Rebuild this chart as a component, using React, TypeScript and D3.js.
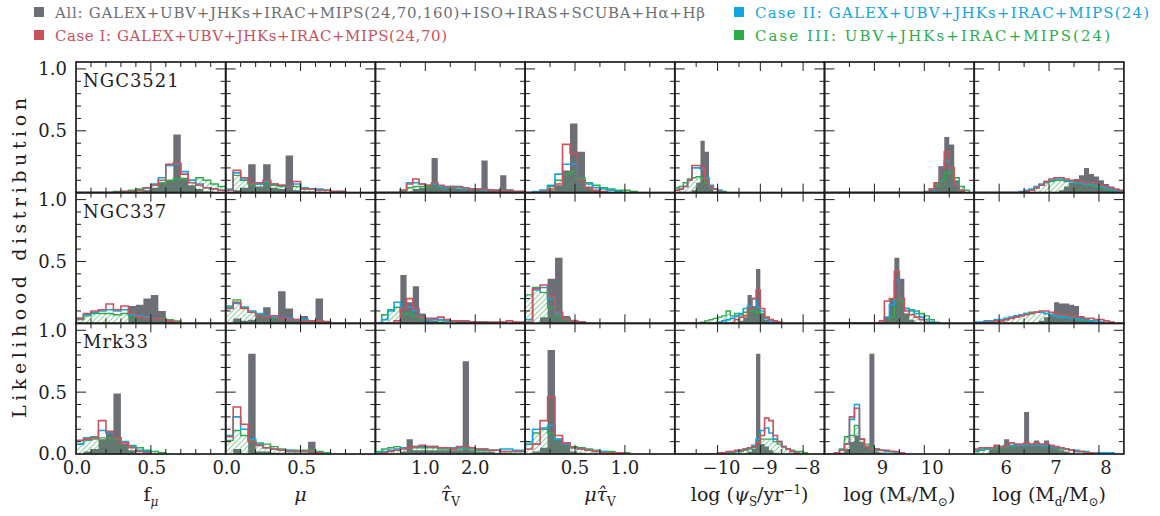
import React from "react";
import * as d3 from "d3";

// ---------- data (likelihood per bin) ----------
const galaxies = ["NGC3521", "NGC337", "Mrk33"];

// bin grid for each parameter column
const binStart = [0, 0, 0, 0, -11, 8, 5.5];
const binWidth = [0.05, 0.05, 0.125, 0.075, 0.1, 0.1, 0.1];
const xDomains: [number, number][] = [[0, 1], [0, 1], [0, 3], [0, 1.5], [-11, -7.5], [8, 11], [5.5, 8.5]];
const minorStep = [0.1, 0.1, 0.5, 0.25, 0.5, 0.5, 0.5];
const majorStep = [0.5, 0.5, 1, 0.5, 1, 1, 1];
const xTickValues = [[0, 0.5], [0, 0.5], [1, 2], [0.5, 1], [-10, -9, -8], [9, 10], [6, 7, 8]];
const xTickText = [["0.0", "0.5"], ["0.0", "0.5"], ["1.0", "2.0"], ["0.5", "1.0"], ["−10", "−9", "−8"], ["9", "10"], ["6", "7", "8"]];
const xTickShift = [1, 1, 0, 0, 4, 8, 7];
const yTickValues = [0, 0.5, 1];
const yTickText = ["0.0", "0.5", "1.0"];

// NGC3521
const ngc3521All = [
  [0, 0, 0, 0, 0, 0, 0, 0, 0.01, 0.02, 0.04, 0.08, 0.1, 0.47, 0.12, 0.06, 0.03, 0.01],
  [0, 0.02, 0.04, 0.23, 0.05, 0.23, 0.04, 0.03, 0.3, 0.02, 0.01, 0.01],
  [0, 0, 0, 0, 0, 0.01, 0.03, 0.04, 0.05, 0.28, 0.05, 0.04, 0.04, 0.03, 0.03, 0.03, 0.03, 0.26, 0.03, 0.02, 0.14, 0.02, 0.01],
  [0, 0, 0, 0.02, 0.06, 0.18, 0.56, 0.33, 0.05, 0.02, 0.01],
  [0, 0, 0, 0, 0.02, 0.08, 0.42, 0.33, 0.05, 0.01],
  [0, 0, 0, 0, 0, 0, 0, 0, 0, 0, 0, 0, 0, 0, 0, 0, 0, 0, 0, 0, 0.01, 0.03, 0.08, 0.2, 0.45, 0.39, 0.1, 0.02],
  [0, 0, 0, 0, 0, 0, 0, 0, 0, 0, 0, 0, 0, 0, 0, 0, 0, 0.02, 0.05, 0.08, 0.11, 0.14, 0.2, 0.15, 0.13, 0.1, 0.07, 0.05, 0.03, 0.02],
];
const ngc3521Case1 = [
  [0, 0, 0, 0, 0, 0, 0.01, 0.01, 0.02, 0.04, 0.06, 0.1, 0.23, 0.24, 0.15, 0.08, 0.06, 0.04, 0.03, 0.02],
  [0.02, 0.18, 0.12, 0.08, 0.08, 0.1, 0.07, 0.06, 0.05, 0.09, 0.03, 0.03, 0.02, 0.02, 0.01, 0.01],
  [0, 0, 0, 0, 0.02, 0.07, 0.11, 0.07, 0.06, 0.08, 0.06, 0.05, 0.05, 0.05, 0.04, 0.03, 0.03, 0.03, 0.02, 0.02, 0.02, 0.02, 0.01, 0.01],
  [0, 0, 0.01, 0.03, 0.07, 0.39, 0.32, 0.1, 0.04, 0.02, 0.01],
  [0.02, 0.03, 0.05, 0.1, 0.22, 0.22, 0.2, 0.1, 0.05, 0.03, 0.01],
  [0, 0, 0, 0, 0, 0, 0, 0, 0, 0, 0, 0, 0, 0, 0, 0, 0, 0, 0, 0, 0, 0.03, 0.08, 0.2, 0.33, 0.2, 0.06, 0.02],
  [0, 0, 0, 0, 0, 0, 0, 0, 0, 0, 0.01, 0.02, 0.04, 0.06, 0.09, 0.11, 0.12, 0.12, 0.11, 0.1, 0.09, 0.09, 0.08, 0.08, 0.07, 0.06, 0.05, 0.04, 0.03, 0.02],
];
const ngc3521Case2 = [
  [0, 0, 0, 0, 0, 0, 0.01, 0.01, 0.02, 0.04, 0.07, 0.12, 0.22, 0.23, 0.17, 0.1, 0.07, 0.04, 0.03, 0.02],
  [0.03, 0.16, 0.11, 0.08, 0.07, 0.09, 0.07, 0.06, 0.05, 0.07, 0.04, 0.03, 0.03, 0.02, 0.01, 0.01],
  [0, 0, 0, 0, 0.02, 0.08, 0.08, 0.07, 0.06, 0.07, 0.05, 0.04, 0.05, 0.04, 0.03, 0.03, 0.03, 0.02, 0.02, 0.02, 0.02, 0.02, 0.01, 0.01],
  [0, 0.01, 0.02, 0.06, 0.15, 0.23, 0.23, 0.1, 0.07, 0.04, 0.03, 0.02, 0.01],
  [0.02, 0.03, 0.05, 0.1, 0.2, 0.2, 0.19, 0.12, 0.06, 0.03, 0.02],
  [0, 0, 0, 0, 0, 0, 0, 0, 0, 0, 0, 0, 0, 0, 0, 0, 0, 0, 0, 0, 0, 0, 0.08, 0.21, 0.26, 0.2, 0.07, 0.02],
  [0, 0, 0, 0, 0, 0, 0, 0, 0, 0.01, 0.02, 0.03, 0.05, 0.07, 0.09, 0.1, 0.11, 0.11, 0.1, 0.09, 0.08, 0.08, 0.07, 0.07, 0.06, 0.05, 0.04, 0.03, 0.02, 0.01],
];
const ngc3521Case3 = [
  [0, 0, 0, 0, 0, 0.01, 0.01, 0.02, 0.03, 0.04, 0.06, 0.08, 0.1, 0.11, 0.11, 0.1, 0.12, 0.1, 0.07, 0.05],
  [0.02, 0.14, 0.1, 0.07, 0.07, 0.08, 0.06, 0.05, 0.05, 0.05, 0.03, 0.03, 0.02, 0.02, 0.01, 0.01],
  [0, 0, 0, 0, 0.01, 0.04, 0.05, 0.05, 0.05, 0.06, 0.05, 0.04, 0.04, 0.04, 0.03, 0.03, 0.03, 0.02, 0.02, 0.02, 0.02, 0.02, 0.01, 0.01],
  [0, 0, 0.02, 0.05, 0.1, 0.15, 0.17, 0.12, 0.08, 0.06, 0.04, 0.03, 0.02, 0.02, 0.01],
  [0.04, 0.05, 0.08, 0.11, 0.12, 0.13, 0.12, 0.08, 0.05, 0.03, 0.02, 0.01],
  [0, 0, 0, 0, 0, 0, 0, 0, 0, 0, 0, 0, 0, 0, 0, 0, 0, 0, 0, 0, 0.01, 0.03, 0.06, 0.1, 0.16, 0.18, 0.12, 0.05, 0.02],
  [0, 0, 0, 0, 0, 0, 0, 0, 0, 0, 0, 0.02, 0.04, 0.06, 0.08, 0.09, 0.1, 0.1, 0.09, 0.09, 0.08, 0.08, 0.07, 0.06, 0.05, 0.04, 0.03, 0.02, 0.01],
];

// NGC337
const ngc337All = [
  [0, 0, 0, 0, 0, 0, 0, 0.14, 0.15, 0.2, 0.23, 0.1, 0.02],
  [0, 0.04, 0.02, 0.03, 0.06, 0.13, 0.04, 0.26, 0.12, 0.03, 0.06, 0.02, 0.2, 0.02],
  [0, 0, 0, 0, 0.39, 0.17, 0.3, 0.08, 0.03, 0.02, 0.01],
  [0, 0, 0.05, 0.36, 0.53, 0.06, 0.03, 0.01],
  [0, 0, 0, 0, 0, 0, 0, 0, 0, 0, 0, 0, 0, 0, 0, 0.02, 0.05, 0.23, 0.14, 0.44, 0.08, 0.03, 0.01],
  [0, 0, 0, 0, 0, 0, 0, 0, 0, 0, 0, 0.01, 0.05, 0.2, 0.53, 0.36, 0.08, 0.03, 0.01],
  [0, 0, 0, 0, 0, 0, 0, 0, 0, 0, 0, 0, 0, 0.02, 0.05, 0.08, 0.17, 0.16, 0.16, 0.15, 0.14, 0.06, 0.04, 0.02, 0.01],
];
const ngc337Case1 = [
  [0.04, 0.08, 0.1, 0.11, 0.156, 0.11, 0.14, 0.08, 0.05, 0.04, 0.04, 0.03, 0.02, 0.01],
  [0.12, 0.17, 0.12, 0.09, 0.06, 0.05, 0.06, 0.04, 0.03, 0.03, 0.02, 0.02, 0.02, 0.01],
  [0, 0, 0, 0.02, 0.12, 0.2, 0.12, 0.05, 0.04, 0.04, 0.05, 0.03, 0.02, 0.02, 0.02, 0.01, 0.01, 0.01, 0.01, 0.01, 0.01, 0.02, 0.01, 0.01],
  [0.01, 0.28, 0.31, 0.22, 0.09, 0.04, 0.02, 0.01],
  [0, 0, 0, 0, 0, 0, 0, 0, 0, 0, 0, 0, 0, 0, 0.03, 0.05, 0.06, 0.12, 0.2, 0.27, 0.12, 0.05, 0.03, 0.02, 0.01],
  [0, 0, 0, 0, 0, 0, 0, 0, 0, 0, 0, 0.02, 0.18, 0.2, 0.42, 0.2, 0.1, 0.07, 0.05, 0.03, 0.01],
  [0, 0, 0.01, 0.01, 0.02, 0.02, 0.03, 0.04, 0.05, 0.06, 0.07, 0.08, 0.09, 0.1, 0.1, 0.09, 0.08, 0.07, 0.07, 0.06, 0.05, 0.05, 0.04, 0.04, 0.03, 0.03, 0.02, 0.01],
];
const ngc337Case2 = [
  [0.04, 0.07, 0.09, 0.1, 0.11, 0.1, 0.11, 0.07, 0.06, 0.05, 0.04, 0.03, 0.02],
  [0.13, 0.16, 0.13, 0.1, 0.08, 0.06, 0.05, 0.04, 0.04, 0.03, 0.03, 0.02, 0.02],
  [0, 0.03, 0.1, 0.17, 0.12, 0.13, 0.1, 0.05, 0.03, 0.03, 0.03, 0.02, 0.02, 0.02, 0.01, 0.01, 0.01, 0.01],
  [0.03, 0.27, 0.29, 0.2, 0.08, 0.04, 0.02, 0.01],
  [0, 0, 0, 0, 0, 0, 0, 0, 0, 0, 0.01, 0.02, 0.03, 0.04, 0.06, 0.08, 0.12, 0.14, 0.2, 0.13, 0.1, 0.04, 0.02, 0.01],
  [0, 0, 0, 0, 0, 0, 0, 0, 0, 0, 0, 0, 0.05, 0.15, 0.35, 0.2, 0.12, 0.1, 0.08, 0.05, 0.03, 0.01],
  [0.01, 0.01, 0.02, 0.02, 0.03, 0.03, 0.04, 0.05, 0.06, 0.07, 0.08, 0.08, 0.09, 0.09, 0.08, 0.07, 0.06, 0.05, 0.05, 0.04, 0.04, 0.03, 0.03, 0.02, 0.02, 0.01],
];
const ngc337Case3 = [
  [0.03, 0.06, 0.08, 0.08, 0.08, 0.07, 0.08, 0.06, 0.05, 0.05, 0.04, 0.04, 0.03, 0.02],
  [0.14, 0.19, 0.13, 0.09, 0.07, 0.05, 0.04, 0.04, 0.03, 0.03, 0.02, 0.02, 0.01],
  [0, 0.07, 0.11, 0.13, 0.08, 0.08, 0.06, 0.04, 0.03, 0.03, 0.02, 0.02, 0.02, 0.01, 0.01, 0.01, 0.01],
  [0.23, 0.29, 0.25, 0.13, 0.06, 0.03, 0.02, 0.01],
  [0, 0, 0, 0, 0, 0, 0.01, 0.02, 0.03, 0.04, 0.05, 0.06, 0.1, 0.06, 0.08, 0.07, 0.09, 0.1, 0.11, 0.09, 0.08, 0.05, 0.03, 0.01],
  [0, 0, 0, 0, 0, 0, 0, 0, 0, 0, 0, 0, 0, 0.05, 0.2, 0.18, 0.12, 0.11, 0.1, 0.08, 0.06, 0.03, 0.01],
  [0, 0, 0, 0, 0.01, 0.02, 0.03, 0.04, 0.06, 0.07, 0.08, 0.09, 0.09, 0.09, 0.08, 0.07, 0.06, 0.06, 0.05, 0.04, 0.03, 0.03, 0.02, 0.01],
];

// Mrk33
const mrk33All = [
  [0, 0.02, 0.04, 0.12, 0.19, 0.49, 0.08, 0.03],
  [0, 0.04, 0, 0.81, 0.02, 0.02, 0.01, 0.01, 0.01, 0.01, 0.01, 0.1, 0.01],
  [0, 0, 0, 0, 0.02, 0.12, 0.03, 0.03, 0.03, 0.03, 0.03, 0.03, 0.03, 0.03, 0.75, 0.03, 0.02, 0.02, 0.02, 0.01, 0.01, 0.01],
  [0, 0.02, 0.05, 0.84, 0.12, 0.08, 0.02, 0.01],
  [0, 0, 0, 0, 0, 0, 0, 0, 0, 0, 0, 0, 0, 0, 0, 0, 0, 0.02, 0.04, 0.81, 0.08, 0.06, 0.03, 0.01],
  [0, 0, 0, 0.01, 0.04, 0.1, 0.15, 0.1, 0.06, 0.81, 0.02, 0.01],
  [0, 0, 0, 0.04, 0.05, 0.06, 0.12, 0.07, 0.07, 0.08, 0.34, 0.08, 0.11, 0.08, 0.11, 0.07, 0.05, 0.03, 0.02, 0.01],
];
const mrk33Case1 = [
  [0.11, 0.12, 0.13, 0.27, 0.18, 0.13, 0.09, 0.05, 0.02, 0.01],
  [0.14, 0.38, 0.24, 0.1, 0.07, 0.05, 0.04, 0.03, 0.02, 0.02, 0.02, 0.02, 0.01],
  [0, 0.01, 0.02, 0.03, 0.04, 0.05, 0.06, 0.07, 0.06, 0.06, 0.05, 0.05, 0.04, 0.06, 0.06, 0.05, 0.04, 0.04, 0.03, 0.03, 0.02, 0.02, 0.02, 0.02],
  [0.04, 0.08, 0.27, 0.46, 0.15, 0.09, 0.05, 0.04, 0.03, 0.02, 0.01, 0.01, 0.01],
  [0, 0, 0, 0, 0, 0, 0, 0, 0, 0, 0.01, 0.01, 0.02, 0.02, 0.03, 0.03, 0.04, 0.05, 0.06, 0.09, 0.15, 0.29, 0.27, 0.15, 0.1, 0.06, 0.04, 0.02, 0.01],
  [0, 0, 0.01, 0.03, 0.08, 0.3, 0.37, 0.12, 0.06, 0.04, 0.04, 0.03, 0.03, 0.02, 0.02, 0.01],
  [0.04, 0.05, 0.05, 0.05, 0.07, 0.06, 0.07, 0.09, 0.08, 0.08, 0.09, 0.08, 0.09, 0.08, 0.08, 0.07, 0.06, 0.05, 0.04, 0.03, 0.02, 0.02, 0.01, 0.01],
];
const mrk33Case2 = [
  [0.08, 0.13, 0.14, 0.19, 0.17, 0.13, 0.1, 0.06, 0.03, 0.02],
  [0.15, 0.3, 0.2, 0.12, 0.08, 0.05, 0.04, 0.03, 0.03, 0.02, 0.02, 0.02, 0.01],
  [0.01, 0.02, 0.03, 0.04, 0.05, 0.05, 0.06, 0.06, 0.06, 0.06, 0.05, 0.05, 0.05, 0.05, 0.05, 0.05, 0.04, 0.04, 0.03, 0.03, 0.04, 0.04, 0.03, 0.03],
  [0.08, 0.2, 0.21, 0.23, 0.12, 0.08, 0.05, 0.04, 0.03, 0.02, 0.02, 0.01, 0.01],
  [0, 0, 0, 0, 0, 0, 0, 0, 0, 0, 0, 0, 0.01, 0.02, 0.02, 0.03, 0.04, 0.05, 0.07, 0.12, 0.19, 0.21, 0.17, 0.12, 0.1, 0.06, 0.04, 0.02],
  [0, 0, 0, 0.03, 0.08, 0.28, 0.4, 0.12, 0.06, 0.04, 0.03, 0.03, 0.02, 0.02, 0.01],
  [0.03, 0.04, 0.04, 0.05, 0.06, 0.06, 0.07, 0.07, 0.07, 0.07, 0.08, 0.07, 0.08, 0.07, 0.07, 0.06, 0.05, 0.05, 0.04, 0.03, 0.03, 0.02, 0.02, 0.01, 0.01, 0.01, 0.01, 0.01],
];
const mrk33Case3 = [
  [0.08, 0.11, 0.12, 0.13, 0.13, 0.12, 0.1, 0.07, 0.05, 0.03, 0.02, 0.01],
  [0.11, 0.19, 0.15, 0.11, 0.09, 0.08, 0.06, 0.04, 0.03, 0.03, 0.03, 0.03, 0.02, 0.01],
  [0.02, 0.04, 0.05, 0.06, 0.05, 0.05, 0.05, 0.05, 0.05, 0.05, 0.04, 0.04, 0.04, 0.04, 0.04, 0.04, 0.03, 0.03, 0.03, 0.03, 0.02, 0.02, 0.02, 0.02],
  [0.1, 0.17, 0.2, 0.17, 0.12, 0.09, 0.06, 0.05, 0.04, 0.03, 0.02, 0.02, 0.01, 0.01],
  [0, 0, 0, 0, 0, 0, 0, 0, 0, 0, 0, 0, 0, 0.01, 0.02, 0.02, 0.03, 0.04, 0.05, 0.1, 0.12, 0.12, 0.12, 0.1, 0.08, 0.06, 0.04, 0.03, 0.02, 0.02, 0.01],
  [0, 0, 0.01, 0.04, 0.14, 0.15, 0.23, 0.12, 0.08, 0.05, 0.04, 0.03, 0.02, 0.02, 0.01],
  [0.02, 0.03, 0.04, 0.04, 0.05, 0.05, 0.06, 0.06, 0.07, 0.07, 0.07, 0.07, 0.07, 0.07, 0.06, 0.06, 0.05, 0.04, 0.04, 0.03, 0.02, 0.02, 0.01, 0.01],
];

const rowsData = [
  [ngc3521All, ngc3521Case1, ngc3521Case2, ngc3521Case3],
  [ngc337All, ngc337Case1, ngc337Case2, ngc337Case3],
  [mrk33All, mrk33Case1, mrk33Case2, mrk33Case3],
];

// ---------- layout / style ----------
const W = 1160;
const H = 516;
const LEFT = 76;
const TOP = 62;
const PW = 149.7;
const PH = 130.67;
const GRAY = "#6c7076";
const RED = "#c9525c";
const BLUE = "#12a6e1";
const GREEN = "#2bad4b";
const INK = "#1e1e1e";
const FONT = "'DejaVu Serif', serif";

const xScale = (c: number) =>
  d3.scaleLinear().domain(xDomains[c]).range([LEFT + c * PW, LEFT + (c + 1) * PW]);
const yScale = (r: number) =>
  d3.scaleLinear().domain([0, 1.056]).range([TOP + (r + 1) * PH, TOP + r * PH]);

function histPath(vals: number[], c: number, xs: d3.ScaleLinear<number, number>, ys: d3.ScaleLinear<number, number>) {
  const s = binStart[c];
  const w = binWidth[c];
  const pts: [number, number][] = [[s, 0]];
  vals.forEach((v, i) => pts.push([s + i * w, v]));
  pts.push([s + vals.length * w, 0]);
  return d3.line<[number, number]>()
    .x(d => xs(d[0]))
    .y(d => ys(d[1]))
    .curve(d3.curveStepAfter)(pts) || "";
}

const near = (v: number, step: number) => Math.abs(v / step - Math.round(v / step)) < 1e-6;

function Panel({ r, c }: { r: number; c: number }) {
  const xs = xScale(c);
  const ys = yScale(r);
  const [all, c1, c2, c3] = rowsData[r].map(s => s[c]);
  const x0 = LEFT + c * PW;
  const x1 = x0 + PW;
  const y0 = TOP + r * PH;
  const y1 = y0 + PH;
  const clipId = `clip-${r}-${c}`;
  const yTicks = d3.range(1, 11).map(i => i / 10);
  const [d0, d1] = xDomains[c];
  const nx = Math.round((d1 - d0) / minorStep[c]);
  const xTicks = d3.range(1, nx).map(i => d0 + i * minorStep[c]);
  return (
    <g>
      <clipPath id={clipId}>
        <rect x={x0} y={y0} width={PW} height={PH} />
      </clipPath>
      <g clipPath={`url(#${clipId})`}>
        <path d={histPath(all, c, xs, ys)} fill={GRAY} stroke="none" />
        <path d={histPath(c3, c, xs, ys)} fill="url(#hatch)" stroke={GREEN} strokeWidth={1.4} />
        <path d={histPath(c2, c, xs, ys)} fill="none" stroke={BLUE} strokeWidth={1.6} />
        <path d={histPath(c1, c, xs, ys)} fill="none" stroke={RED} strokeWidth={1.6} />
      </g>
      {yTicks.map(v => {
        const len = near(v, 0.5) ? 10 : 5;
        return (
          <g key={`y${v}`} stroke={INK} strokeWidth={1}>
            <line x1={x0} x2={x0 + len} y1={ys(v)} y2={ys(v)} />
            <line x1={x1} x2={x1 - len} y1={ys(v)} y2={ys(v)} />
          </g>
        );
      })}
      {xTicks.map(v => {
        const len = near(v, majorStep[c]) ? 9 : 5;
        return (
          <g key={`x${v}`} stroke={INK} strokeWidth={1}>
            <line x1={xs(v)} x2={xs(v)} y1={y1} y2={y1 - len} />
            <line x1={xs(v)} x2={xs(v)} y1={y0} y2={y0 + len} />
          </g>
        );
      })}
      <rect x={x0} y={y0} width={PW} height={PH} fill="none" stroke={INK} strokeWidth={1.7} />
    </g>
  );
}

const legendItems = [
  { color: GRAY, label: "All: GALEX+UBV+JHKs+IRAC+MIPS(24,70,160)+ISO+IRAS+SCUBA+Hα+Hβ", x: 34, y: 7, len: 650 },
  { color: RED, label: "Case I: GALEX+UBV+JHKs+IRAC+MIPS(24,70)", x: 34, y: 30, len: 392 },
  { color: BLUE, label: "Case II: GALEX+UBV+JHKs+IRAC+MIPS(24)", x: 734, y: 7, len: 394 },
  { color: GREEN, label: "Case III: UBV+JHKs+IRAC+MIPS(24)", x: 734, y: 30, len: 355 },
];

function AxisTitle({ c }: { c: number }) {
  const cx = LEFT + (c + 0.5) * PW;
  const common = { x: cx, y: 501, textAnchor: "middle" as const, fontSize: 19, fontFamily: FONT, fill: INK };
  const sub = { fontSize: 12 };
  switch (c) {
    case 0:
      return <text {...common}>f<tspan {...sub} dy={5} fontStyle="italic">μ</tspan></text>;
    case 1:
      return <text {...common} fontStyle="italic">μ</text>;
    case 2:
      return <text {...common}><tspan fontStyle="italic">τ̂</tspan><tspan {...sub} dy={5}>V</tspan></text>;
    case 3:
      return <text {...common}><tspan fontStyle="italic">μτ̂</tspan><tspan {...sub} dy={5}>V</tspan></text>;
    case 4:
      return (
        <text {...common}>log (<tspan fontStyle="italic">ψ</tspan><tspan {...sub} dy={5}>S</tspan><tspan dy={-5}>/yr</tspan><tspan {...sub} dy={-7}>−1</tspan><tspan dy={7}>)</tspan></text>
      );
    case 5:
      return (
        <text {...common}>log (M<tspan {...sub} dy={5}>*</tspan><tspan dy={-5}>/M</tspan><tspan {...sub} dy={5}>⊙</tspan><tspan dy={-5}>)</tspan></text>
      );
    default:
      return (
        <text {...common}>log (M<tspan {...sub} dy={5}>d</tspan><tspan dy={-5}>/M</tspan><tspan {...sub} dy={5}>⊙</tspan><tspan dy={-5}>)</tspan></text>
      );
  }
}

export default function App() {
  const cols = d3.range(7);
  const rows = d3.range(3);
  const bottom = TOP + 3 * PH;
  return (
    <svg width={W} height={H} style={{ position: "absolute", left: 0, top: 0, background: "#fff" }}>
      <defs>
        <pattern id="hatch" patternUnits="userSpaceOnUse" width={3.8} height={3.8} patternTransform="rotate(45)">
          <line x1={0} y1={0} x2={0} y2={3.8} stroke={GREEN} strokeWidth={1.1} />
        </pattern>
      </defs>

      {legendItems.map(it => (
        <g key={it.label}>
          <rect x={it.x} y={it.y} width={10} height={10} fill={it.color} />
          <text x={it.x + 21} y={it.y + 10.5} fontSize={15} fontFamily={FONT} fill={it.color}
            textLength={it.len} lengthAdjust="spacing">{it.label}</text>
        </g>
      ))}

      {rows.map(r => cols.map(c => <Panel key={`${r}-${c}`} r={r} c={c} />))}

      {rows.map(r => (
        <text key={`g${r}`} x={LEFT + 7} y={TOP + r * PH + 25} fontSize={18} fontFamily={FONT} fill={INK} letterSpacing={1}>
          {galaxies[r]}
        </text>
      ))}

      {rows.map(r => {
        const ys = yScale(r);
        return yTickValues.map((v, i) => (r < 2 && v === 0 ? null : (
          <text key={`yl${r}-${i}`} x={67} y={ys(v)} dy="0.36em" textAnchor="end" fontSize={18} fontFamily={FONT} fill={INK}>
            {yTickText[i]}
          </text>
        )));
      })}

      {cols.map(c => {
        const xs = xScale(c);
        return xTickValues[c].map((v, i) => (
          <text key={`xl${c}-${i}`} x={xs(v) + xTickShift[c]} y={bottom + 20} textAnchor="middle" fontSize={18} fontFamily={FONT} fill={INK}>
            {xTickText[c][i]}
          </text>
        ));
      })}

      {cols.map(c => <AxisTitle key={`t${c}`} c={c} />)}

      <text transform={`translate(26, ${TOP + 1.5 * PH}) rotate(-90)`} textAnchor="middle" fontSize={19} fontFamily={FONT} fill={INK}
        textLength={320} lengthAdjust="spacing">Likelihood distribution</text>
    </svg>
  );
}
